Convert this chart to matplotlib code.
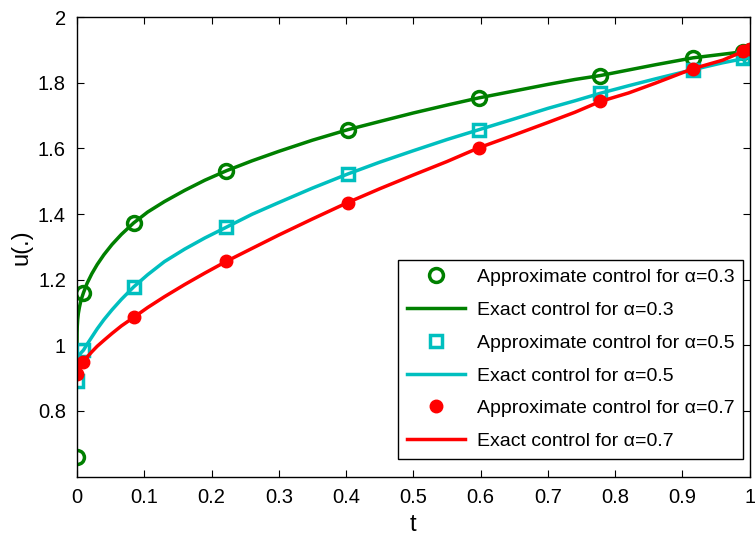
import numpy as np
import matplotlib
matplotlib.use('Agg')
import matplotlib.pyplot as plt

plt.rcParams['font.family'] = ['Liberation Sans', 'DejaVu Sans']

# collocation points (approximate controls)
t_nodes = [0.0, 0.0096, 0.0843, 0.2222, 0.4025, 0.5975, 0.7778, 0.9157, 0.9904, 1.0]
u_app_03 = [0.66, 1.16, 1.373, 1.532, 1.657, 1.754, 1.822, 1.876, 1.893, 1.897]
u_app_05 = [0.89, 0.985, 1.178, 1.36, 1.522, 1.657, 1.768, 1.84, 1.877, 1.88]
u_app_07 = [0.911, 0.948, 1.085, 1.256, 1.435, 1.602, 1.743, 1.843, 1.898, 1.904]

# exact controls
t_exact = [0.0, 0.0001, 0.0004, 0.001, 0.002, 0.0035, 0.006, 0.0096, 0.015, 0.022,
           0.03, 0.04, 0.052, 0.066, 0.0843, 0.105, 0.13, 0.16, 0.19, 0.2222,
           0.26, 0.30, 0.35, 0.4025, 0.45, 0.50, 0.55, 0.5975, 0.65, 0.70,
           0.74, 0.7778, 0.82, 0.86, 0.9157, 0.96, 1.0]
u_ex_03 = [1.0, 1.038, 1.058, 1.078, 1.097, 1.115, 1.138, 1.16, 1.189, 1.218,
           1.246, 1.276, 1.307, 1.338, 1.373, 1.406, 1.438, 1.472, 1.503, 1.532,
           1.562, 1.591, 1.625, 1.657, 1.682, 1.708, 1.732, 1.754, 1.775, 1.795,
           1.810, 1.822, 1.839, 1.855, 1.876, 1.887, 1.897]
u_ex_05 = [0.955, 0.957, 0.959, 0.962, 0.966, 0.970, 0.977, 0.985, 1.003, 1.025,
           1.05, 1.078, 1.108, 1.140, 1.178, 1.215, 1.255, 1.293, 1.327, 1.36,
           1.399, 1.435, 1.479, 1.522, 1.558, 1.593, 1.627, 1.657, 1.690, 1.722,
           1.745, 1.768, 1.791, 1.812, 1.840, 1.861, 1.877]
u_ex_07 = [0.912, 0.914, 0.916, 0.920, 0.925, 0.931, 0.939, 0.948, 0.964, 0.980,
           0.997, 1.015, 1.036, 1.059, 1.085, 1.115, 1.148, 1.185, 1.220, 1.256,
           1.295, 1.336, 1.385, 1.435, 1.477, 1.519, 1.560, 1.602, 1.641, 1.679,
           1.710, 1.743, 1.769, 1.799, 1.843, 1.869, 1.904]

green = '#008000'
cyan = '#00BFBF'
red = '#FF0000'

fig = plt.figure(figsize=(7.55, 5.36), dpi=100)
ax = fig.add_axes([0.102, 0.111, 0.891, 0.857])

ax.plot(t_nodes, u_app_03, 'o', color=green, mfc='none', mew=2.5, ms=10,
        label='Approximate control for α=0.3')
ax.plot(t_exact, u_ex_03, '-', color=green, lw=2.5, label='Exact control for α=0.3')
ax.plot(t_nodes, u_app_05, 's', color=cyan, mfc='none', mew=2.5, ms=9,
        label='Approximate control for α=0.5')
ax.plot(t_exact, u_ex_05, '-', color=cyan, lw=2.5, label='Exact control for α=0.5')
ax.plot(t_nodes, u_app_07, 'o', color=red, mfc=red, mec=red, ms=9,
        label='Approximate control for α=0.7')
ax.plot(t_exact, u_ex_07, '-', color=red, lw=2.5, label='Exact control for α=0.7')

ax.set_xlim(0, 1)
ax.set_ylim(0.6, 2)
ax.set_xticks(np.arange(0, 1.01, 0.1))
ax.set_xticklabels(['0', '0.1', '0.2', '0.3', '0.4', '0.5', '0.6', '0.7', '0.8', '0.9', '1'])
ax.set_yticks([0.8, 1.0, 1.2, 1.4, 1.6, 1.8, 2.0])
ax.set_yticklabels(['0.8', '1', '1.2', '1.4', '1.6', '1.8', '2'])
ax.tick_params(direction='in', top=True, right=True, length=5, labelsize=14.5, pad=8)
for s in ax.spines.values():
    s.set_linewidth(1.0)

ax.set_xlabel('t', fontsize=17, labelpad=5)
ax.set_ylabel('u(.)', fontsize=17, labelpad=4)

leg = ax.legend(loc='lower right', bbox_to_anchor=(0.99, 0.0385), borderaxespad=0,
                fontsize=14, frameon=True, fancybox=False, edgecolor='black',
                framealpha=1, handlelength=3.0, handletextpad=0.6,
                labelspacing=0.78, borderpad=0.45)
leg.get_frame().set_linewidth(1.0)

fig.savefig('out.png', dpi=100)
